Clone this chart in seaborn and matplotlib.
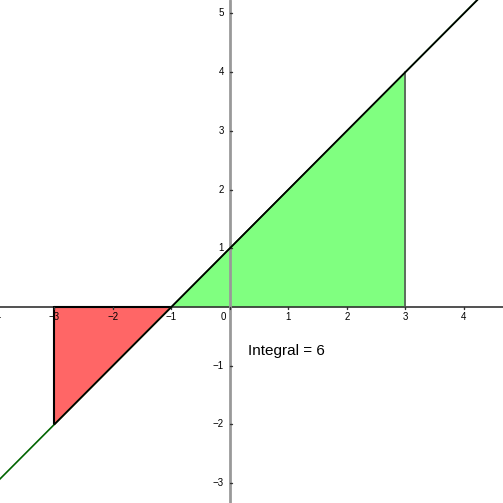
import matplotlib
matplotlib.use("Agg")
import matplotlib.pyplot as plt
import seaborn as sns
import pandas as pd
import numpy as np

# Data
line_x = [-4.0, 5.0]
line_y = [-3.0, 6.0]
neg_x = [-3.0, -1.0]
neg_y = [-2.0, 0.0]
pos_x = [-1.0, 3.0]
pos_y = [0.0, 4.0]
x_ticks = [-4, -3, -2, -1, 0, 1, 2, 3, 4]
y_ticks = [-3, -2, -1, 1, 2, 3, 4, 5]
integral_label = "Integral = 6"

sns.set_style("white")
plt.rcParams['font.family'] = ['Liberation Sans', 'DejaVu Sans']

fig = plt.figure(figsize=(5.03, 5.03), dpi=100)
ax = fig.add_axes([0, 0, 1, 1])
ax.set_xlim(-3.93, 4.67)
ax.set_ylim(-3.34, 5.23)

# fills
ax.fill_between(pos_x, [0, 0], pos_y, color="#80ff80", lw=0, zorder=1)
ax.fill_between(neg_x, [0, 0], neg_y, color="#ff6666", lw=0, zorder=1)

# axes
ax.axhline(0, color="#333333", lw=1.2, zorder=2)
ax.axvline(0, color="#999999", lw=2, zorder=2)

# function line
df = pd.DataFrame({"x": line_x, "y": line_y})
sns.lineplot(data=df, x="x", y="y", color="#006400", lw=1.2, ax=ax, zorder=4)
df2 = pd.DataFrame({"x": [neg_x[0], line_x[1]], "y": [neg_y[0], line_y[1]]})
sns.lineplot(data=df2, x="x", y="y", color="black", lw=1.2, ax=ax, zorder=5)

# polygon edges
ax.plot([neg_x[0], neg_x[0]], [0, neg_y[0]], color="black", lw=1.5, zorder=3)
ax.plot([neg_x[0], neg_x[1]], [0, 0], color="black", lw=1.5, zorder=3)
ax.plot([pos_x[1], pos_x[1]], [0, pos_y[1]], color="#555555", lw=1.2, zorder=3)

# tick marks and labels
for t in x_ticks:
    ax.plot([t, t], [0, -0.04], color="#333333", lw=1, zorder=3)
    lab = str(t).replace("-", "\u2212")
    xx = t - 0.12 if t == 0 else t
    ax.text(xx, -0.08, lab, ha="center", va="top", fontsize=7, color="black")
for t in y_ticks:
    ax.plot([0, 0.04], [t, t], color="#333333", lw=1, zorder=3)
    lab = str(t).replace("-", "\u2212")
    ax.text(-0.1, t, lab, ha="right", va="center", fontsize=7, color="black")

ax.text(0.31, -0.75, integral_label, ha="left", va="center", fontsize=11, color="black")

for s in ax.spines.values():
    s.set_visible(False)
ax.set_xticks([])
ax.set_yticks([])
ax.set_xlabel("")
ax.set_ylabel("")
ax.set_xlim(-3.93, 4.67)
ax.set_ylim(-3.34, 5.23)

fig.savefig("out.png", dpi=100)
